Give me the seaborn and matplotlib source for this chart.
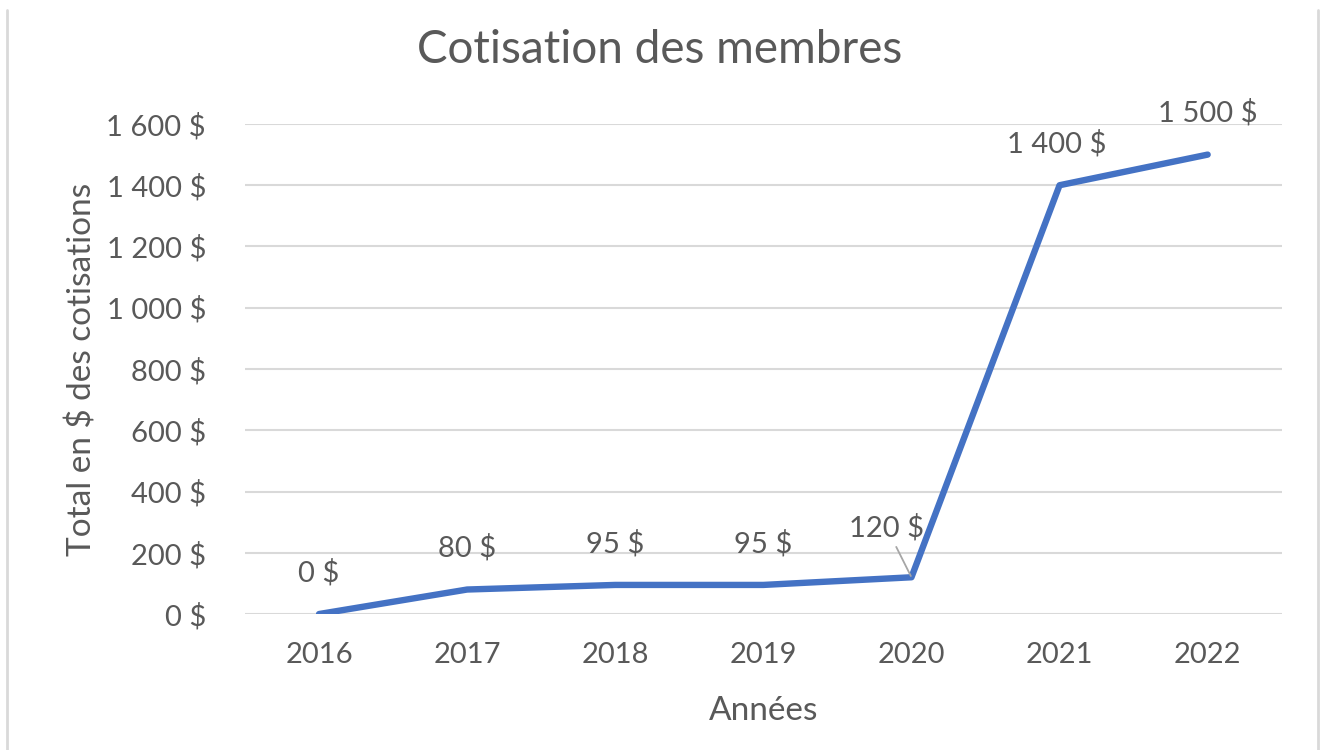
import matplotlib
matplotlib.use("Agg")
import matplotlib.pyplot as plt
import seaborn as sns
import pandas as pd
from matplotlib.ticker import FuncFormatter
from matplotlib.lines import Line2D

annees = ["2016", "2017", "2018", "2019", "2020", "2021", "2022"]
cotisations = [0, 80, 95, 95, 120, 1400, 1500]

df = pd.DataFrame({"annee": annees, "total": cotisations})
df["pos"] = range(len(df))

sns.set_theme(style="white")
plt.rcParams["font.family"] = ["Lato", "DejaVu Sans"]
gris = "#595959"

def dollars(v, pos=None):
    return f"{v:,.0f}".replace(",", " ") + " $"

fig = plt.figure(figsize=(13.2, 7.5), dpi=100)
ax = fig.add_axes([0.1856, 0.1813, 0.7854, 0.6534])

sns.lineplot(data=df, x="pos", y="total", ax=ax, color="#4472C4", linewidth=4.6,
             solid_capstyle="round", solid_joinstyle="round")

ax.set_xlim(-0.5, len(annees) - 0.5)
ax.set_ylim(0, 1600)
ax.set_yticks(range(0, 1601, 200))
ax.yaxis.set_major_formatter(FuncFormatter(dollars))
ax.set_xticks(df["pos"])
ax.set_xticklabels(annees)
ax.grid(axis="y", color="#D9D9D9", linewidth=1.5)
ax.set_axisbelow(True)
for s in ax.spines.values():
    s.set_visible(False)
ax.tick_params(axis="both", length=0, labelsize=21, colors=gris)
ax.tick_params(axis="y", pad=28)
ax.tick_params(axis="x", pad=20)

ax.set_xlabel("Années", fontsize=24, color=gris, labelpad=20)
ax.set_ylabel("Total en $ des cotisations", fontsize=24, color=gris)
ax.yaxis.set_label_coords(-0.142, 0.5)
fig.suptitle("Cotisation des membres", x=0.5, y=0.933, va="center",
             fontsize=33, color=gris)

# étiquettes de données
for i, v in enumerate(cotisations):
    if annees[i] == "2020":
        ax.annotate(dollars(v), xy=(i, v), xytext=(-18, 26), textcoords="offset points",
                    ha="center", va="bottom", fontsize=21, color=gris,
                    arrowprops=dict(arrowstyle="-", color="#A6A6A6", lw=1.3,
                                    shrinkA=2, shrinkB=1))
    else:
        dx = -2 if annees[i] == "2021" else 0
        ax.annotate(dollars(v), xy=(i, v), xytext=(dx, 20), textcoords="offset points",
                    ha="center", va="bottom", fontsize=21, color=gris)

# cadre du graphique (bords gauche et droit)
for xb in (0.0055, 0.9985):
    fig.add_artist(Line2D([xb, xb], [0, 0.987], transform=fig.transFigure,
                          color="#D9D9D9", linewidth=2))

fig.savefig("out.png", dpi=100, facecolor="white")
